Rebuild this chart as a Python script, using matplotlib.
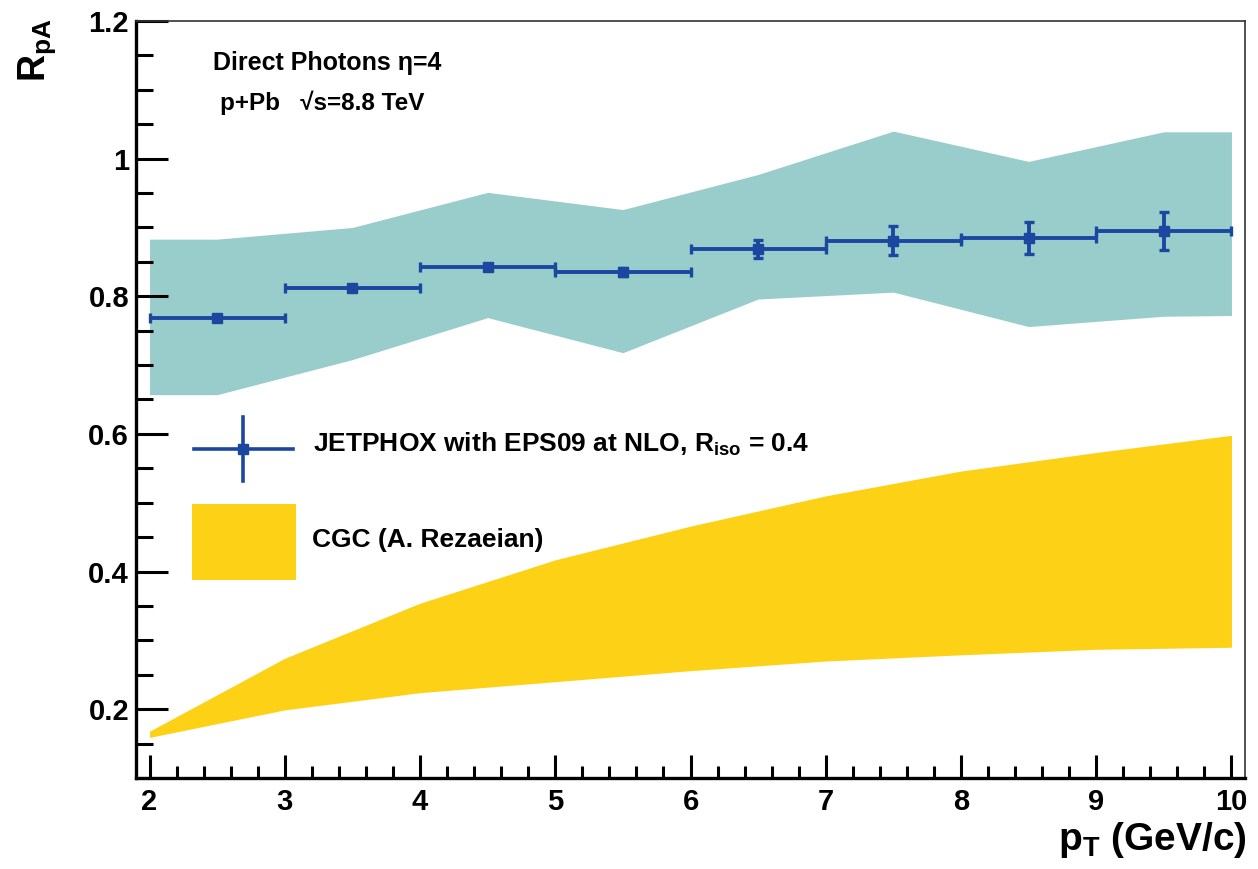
import matplotlib
matplotlib.use("Agg")
import matplotlib.pyplot as plt
from matplotlib.lines import Line2D
from matplotlib.patches import Rectangle
from matplotlib.ticker import MultipleLocator, FixedLocator, FuncFormatter

W, H = 1258, 869
BLUE = "#1C47A1"
TEAL = "#99CDCB"
GOLD = "#FDD116"

# JETPHOX points (bin centres, R_pA, errors)
pt = [2.5, 3.5, 4.5, 5.5, 6.5, 7.5, 8.5, 9.5]
rpa = [0.769, 0.812, 0.842, 0.835, 0.869, 0.881, 0.885, 0.895]
pt_err = [0.5, 0.5, 0.5, 0.5, 0.5, 0.5, 0.5, 0.5]
rpa_err = [0.003, 0.003, 0.002, 0.006, 0.013, 0.021, 0.023, 0.028]

# EPS09 uncertainty band
band_x = [2, 2.5, 3.5, 4.5, 5.5, 6.5, 7.5, 8.5, 9.5, 10]
band_hi = [0.883, 0.883, 0.900, 0.951, 0.926, 0.977, 1.040, 0.996, 1.039, 1.039]
band_lo = [0.657, 0.657, 0.708, 0.769, 0.718, 0.796, 0.806, 0.756, 0.771, 0.772]

# CGC band
cgc_x = [2, 3, 4, 5, 6, 7, 8, 9, 10]
cgc_hi = [0.168, 0.274, 0.354, 0.417, 0.466, 0.510, 0.546, 0.573, 0.598]
cgc_lo = [0.159, 0.199, 0.224, 0.240, 0.256, 0.270, 0.279, 0.287, 0.290]

plt.rcParams.update({
    "font.family": ["Liberation Sans", "DejaVu Sans"],
    "font.weight": "bold",
    "mathtext.fontset": "custom",
    "mathtext.rm": "Liberation Sans:bold",
    "mathtext.it": "Liberation Sans:bold",
    "mathtext.bf": "Liberation Sans:bold",
})


def fx(x):
    return x / W


def fy(y):
    return 1 - y / H


fig = plt.figure(figsize=(W / 100, H / 100), dpi=100)
ax = fig.add_axes([fx(136), fy(778), (1245 - 136) / W, (778 - 21) / H])

ax.fill_between(band_x, band_lo, band_hi, color=TEAL, lw=0)
ax.fill_between(cgc_x, cgc_lo, cgc_hi, color=GOLD, lw=0)
ax.errorbar(pt, rpa, xerr=pt_err, yerr=rpa_err, fmt="s", color=BLUE, ms=7.5,
            lw=2.8, capsize=3.5, capthick=2.4, zorder=5)

ax.set_xlim(1.9, 10.1)
ax.set_ylim(0.1, 1.2)
ax.xaxis.set_major_locator(MultipleLocator(1))
ax.xaxis.set_minor_locator(MultipleLocator(0.2))
ax.yaxis.set_major_locator(FixedLocator([0.2, 0.4, 0.6, 0.8, 1.0, 1.2]))
ax.yaxis.set_minor_locator(MultipleLocator(0.05))
ax.yaxis.set_major_formatter(FuncFormatter(lambda v, p: f"{v:g}"))
ax.tick_params(which="both", direction="in", top=False, right=False,
               width=2.2, labelsize=21, colors="black")
ax.tick_params(axis="y", which="major", length=23, pad=5)
ax.tick_params(axis="y", which="minor", length=12.5)
ax.tick_params(axis="x", which="major", length=16.5, pad=7)
ax.tick_params(axis="x", which="minor", length=8.5)
for s in ("left", "bottom"):
    ax.spines[s].set_linewidth(2.4)
for s in ("top", "right"):
    ax.spines[s].set_linewidth(1.2)
    ax.spines[s].set_color("#333333")

fig.text(fx(1247), fy(850), r"p$_{\rm T}$ (GeV/c)", fontsize=28, ha="right", va="baseline")
fig.text(fx(58), fy(18), r"R$_{\rm pA}$", fontsize=27, rotation=90, ha="right", va="top")

fig.text(fx(213), fy(70), "Direct Photons \u03b7=4", fontsize=18, ha="left", va="baseline")
fig.text(fx(220), fy(110), "p+Pb   \u221as=8.8 TeV", fontsize=17.5, ha="left", va="baseline")

# legend
fig.add_artist(Line2D([fx(194), fx(293)], [fy(449), fy(449)], color=BLUE, lw=2.6,
                      transform=fig.transFigure))
fig.add_artist(Line2D([fx(243), fx(243)], [fy(417), fy(481)], color=BLUE, lw=2.6,
                      transform=fig.transFigure))
fig.add_artist(Line2D([fx(243)], [fy(449)], color=BLUE, marker="s", ms=7.5,
                      transform=fig.transFigure))
fig.add_artist(Rectangle((fx(192), fy(580)), (296 - 192) / W, (580 - 504) / H,
                         color=GOLD, lw=0, transform=fig.transFigure))
fig.text(fx(313), fy(452), r"JETPHOX with EPS09 at NLO, R$_{\rm iso}$ = 0.4", fontsize=19,
         ha="left", va="baseline")
fig.text(fx(312), fy(547), "CGC (A. Rezaeian)", fontsize=19, ha="left", va="baseline")

fig.savefig("out.png", dpi=100)
